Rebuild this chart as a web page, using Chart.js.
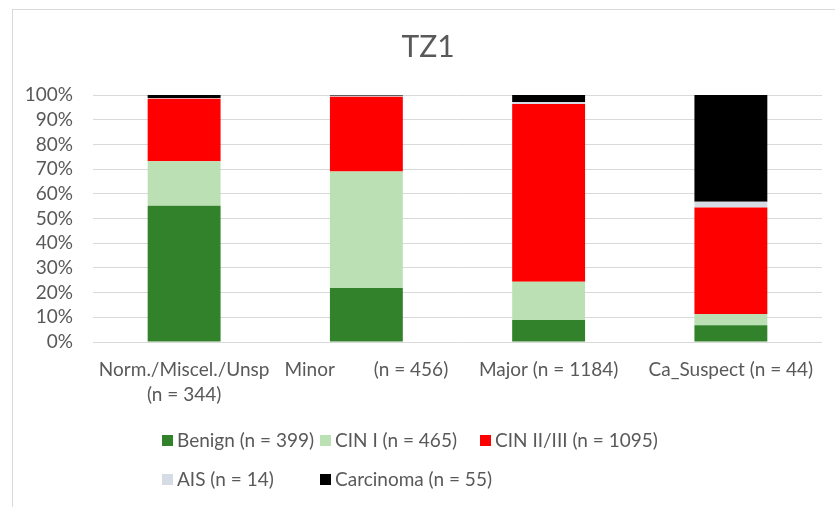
<!DOCTYPE html>
<html>
<head>
<meta charset="utf-8">
<script src="https://cdn.jsdelivr.net/npm/chart.js"></script>
<style>
  html, body { margin: 0; padding: 0; background: #fff; }
  #wrap { position: relative; width: 835px; height: 507px; overflow: hidden; }
  #frame { position: absolute; left: 12px; top: 9px; width: 900px; height: 600px; border: 1px solid #D9D9D9; box-sizing: border-box; }
  #tz1 { position: absolute; left: 0; top: 0; }
  .lg { position: absolute; font-family: Lato, "Noto Sans", sans-serif; font-size: 19px; color: #595959; white-space: nowrap; line-height: 24px; }
  .lg i { display: inline-block; width: 11px; height: 11px; margin-right: 4px; vertical-align: 1px; }
</style>
</head>
<body>
<div id="wrap">
  <div id="frame"></div>
  <canvas id="tz1" width="835" height="507"></canvas>
  <div id="legend"></div>
</div>
<script>
// Datos (porcentaje por categoría)
const categories = [['Norm./Miscel./Unsp', '(n = 344)'], 'Minor        (n = 456)', 'Major (n = 1184)', 'Ca_Suspect (n = 44)'];
const seriesNames = ['Benign (n = 399)', 'CIN I (n = 465)', 'CIN II/III (n = 1095)', 'AIS (n = 14)', 'Carcinoma (n = 55)'];
const benign = [55.2, 21.9, 8.9, 6.8];
const cin1 = [18.0, 47.1, 15.5, 4.5];
const cin23 = [25.3, 30.3, 72.0, 43.2];
const ais = [0.3, 0.4, 0.8, 2.3];
const carcinoma = [1.2, 0.3, 2.8, 43.2];
const yTicks = [0, 10, 20, 30, 40, 50, 60, 70, 80, 90, 100];

const colors = ['#31822A', '#BBE0B3', '#FF0000', '#D6DCE5', '#000000'];
const seriesData = [benign, cin1, cin23, ais, carcinoma];

const labelFont = { family: 'Lato, "Noto Sans", sans-serif', size: 19, lineHeight: 1.3 };

const datasets = seriesData.map(function(values, i) {
    return {
        label: seriesNames[i],
        data: values,
        backgroundColor: colors[i],
        borderWidth: 0,
        barPercentage: 0.4,
        categoryPercentage: 1.0
    };
});

// El título se centra sobre el marco del gráfico, no sobre todo el lienzo
const titleShift = {
    id: 'titleShift',
    afterLayout: function(chart) {
        const t = chart.titleBlock;
        if (t) { t.left += 34; t.width = t.right - t.left; }
    }
};

new Chart(document.getElementById('tz1'), {
    type: 'bar',
    data: { labels: categories, datasets: datasets },
    plugins: [titleShift],
    options: {
        responsive: false,
        animation: false,
        layout: { padding: { left: 0, right: 13, top: 0, bottom: 95 } },
        plugins: {
            legend: { display: false },
            tooltip: { enabled: false },
            title: {
                display: true,
                text: 'TZ1',
                color: '#595959',
                font: { family: 'Lato, "Noto Sans", sans-serif', size: 30, weight: 'normal', lineHeight: 1.2 },
                padding: { top: 29, bottom: 30 }
            }
        },
        scales: {
            x: {
                stacked: true,
                grid: { display: false },
                border: { display: false },
                ticks: { color: '#595959', font: labelFont, maxRotation: 0, autoSkip: false, padding: 8 },
                afterFit: function(s) { s.height = 70; }
            },
            y: {
                stacked: true,
                min: 0,
                max: 100,
                afterBuildTicks: function(s) { s.ticks = yTicks.map(function(v) { return { value: v }; }); },
                grid: { color: '#D9D9D9', lineWidth: 1, drawTicks: false },
                border: { display: false },
                ticks: {
                    color: '#595959',
                    font: labelFont,
                    padding: 20,
                    autoSkip: false,
                    callback: function(v) { return v + '%'; }
                },
                afterFit: function(s) { s.width = 93; }
            }
        }
    }
});

// Leyenda en rejilla como en el original
const legendPos = [[162, 428], [320, 428], [480, 428], [162, 467], [320, 467]];
const legendEl = document.getElementById('legend');
seriesNames.forEach(function(name, i) {
    const d = document.createElement('div');
    d.className = 'lg';
    d.style.left = legendPos[i][0] + 'px';
    d.style.top = legendPos[i][1] + 'px';
    d.innerHTML = '<i style="background:' + colors[i] + '"></i>' + name;
    legendEl.appendChild(d);
});
</script>
</body>
</html>
